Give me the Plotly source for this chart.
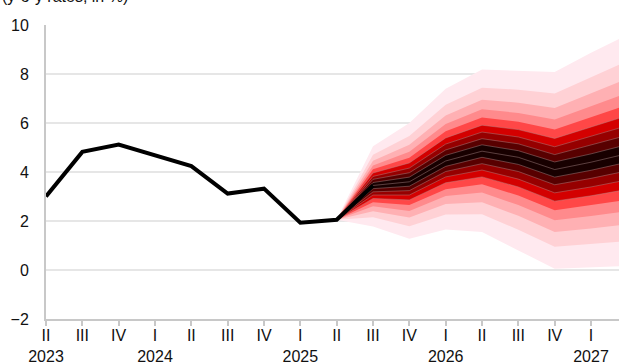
import plotly.graph_objects as go

# quarters on the x axis (last one falls just past the right edge)
quarters = ["2023Q2", "2023Q3", "2023Q4", "2024Q1", "2024Q2", "2024Q3", "2024Q4",
            "2025Q1", "2025Q2", "2025Q3", "2025Q4", "2026Q1", "2026Q2", "2026Q3",
            "2026Q4", "2027Q1", "2027Q2"]
roman = ["II", "III", "IV", "I", "II", "III", "IV", "I", "II", "III", "IV",
         "I", "II", "III", "IV", "I"]
years = ["2023", "", "", "2024", "", "", "", "2025", "", "", "", "2026", "", "", "", "2027"]

# observed y-o-y rates (last point is the nowcast where the fan widens)
hist_q = quarters[:10]
hist = [3.0, 4.82, 5.12, 4.68, 4.24, 3.12, 3.32, 1.93, 2.05, 3.45]

# projection percentiles, 2025Q2 .. 2027Q2
fan_q = quarters[8:]
p05 = [2.05, 1.78, 1.28, 1.65, 1.55, 0.80, 0.05, 0.10, 0.17]
p10 = [2.05, 2.15, 1.79, 2.27, 2.28, 1.64, 0.95, 1.05, 1.18]
p15 = [2.05, 2.40, 2.14, 2.69, 2.77, 2.21, 1.55, 1.69, 1.87]
p20 = [2.05, 2.60, 2.41, 3.02, 3.16, 2.65, 2.03, 2.20, 2.41]
p25 = [2.05, 2.77, 2.65, 3.30, 3.50, 3.04, 2.44, 2.64, 2.87]
p30 = [2.05, 2.92, 2.86, 3.56, 3.80, 3.39, 2.81, 3.03, 3.29]
p35 = [2.05, 3.06, 3.06, 3.80, 4.08, 3.71, 3.15, 3.39, 3.68]
p40 = [2.05, 3.19, 3.24, 4.02, 4.34, 4.02, 3.48, 3.74, 4.05]
p45 = [2.05, 3.32, 3.42, 4.23, 4.60, 4.31, 3.79, 4.07, 4.40]
p50 = [2.05, 3.45, 3.60, 4.45, 4.85, 4.60, 4.10, 4.40, 4.75]
p55 = [2.05, 3.57, 3.79, 4.68, 5.11, 4.87, 4.41, 4.74, 5.12]
p60 = [2.05, 3.70, 3.97, 4.90, 5.36, 5.15, 4.71, 5.09, 5.50]
p65 = [2.05, 3.82, 4.16, 5.14, 5.63, 5.43, 5.03, 5.45, 5.89]
p70 = [2.05, 3.96, 4.37, 5.39, 5.91, 5.73, 5.37, 5.83, 6.30]
p75 = [2.05, 4.11, 4.58, 5.66, 6.22, 6.05, 5.73, 6.23, 6.74]
p80 = [2.05, 4.27, 4.83, 5.96, 6.56, 6.41, 6.14, 6.69, 7.23]
p85 = [2.05, 4.46, 5.11, 6.31, 6.95, 6.83, 6.61, 7.22, 7.81]
p90 = [2.05, 4.70, 5.47, 6.75, 7.44, 7.36, 7.20, 7.88, 8.53]
p95 = [2.05, 5.05, 6.00, 7.40, 8.18, 8.14, 8.08, 8.87, 9.60]

# nested bands, outer to inner
bands = [(p05, p95), (p10, p90), (p15, p85), (p20, p80), (p25, p75),
         (p30, p70), (p35, p65), (p40, p60), (p45, p55)]
band_colors = ["#FFE9EF", "#FFD1D5", "#FFB0B3", "#FF8A8C", "#FF4747",
               "#D40000", "#960000", "#580000", "#180000"]
inner_lines = [p30, p35, p40, p45, p50, p55, p60, p65, p70]

FONT = "Liberation Sans, Arial, sans-serif"

fig = go.Figure()

for (lo, hi), col in zip(bands, band_colors):
    fig.add_trace(go.Scatter(
        x=fan_q + fan_q[::-1], y=hi + lo[::-1],
        fill="toself", fillcolor=col, mode="lines",
        line=dict(width=0), hoverinfo="skip", showlegend=False))

for ln in inner_lines:
    fig.add_trace(go.Scatter(
        x=fan_q, y=ln, mode="lines",
        line=dict(color="rgba(175,140,140,0.75)", width=0.6),
        hoverinfo="skip", showlegend=False))

fig.add_trace(go.Scatter(
    x=hist_q, y=hist, mode="lines",
    line=dict(color="black", width=4), showlegend=False))

ticktext = [r + "<br>" + y for r, y in zip(roman, years)]

fig.update_xaxes(
    type="category", categoryorder="array", categoryarray=quarters,
    range=[0, 15.77], tickvals=quarters[:16], ticktext=ticktext,
    showgrid=False, showline=True, linecolor="#C8C8C8", linewidth=2,
    ticks="outside", ticklen=5, tickcolor="#C8C8C8", tickwidth=1.5,
    ticklabelstandoff=-4, automargin=False,
    tickangle=0, tickfont=dict(family=FONT, size=16, color="#111"))
fig.update_yaxes(
    range=[-2, 10], dtick=2, tick0=0,
    showgrid=True, gridcolor="#E6E6E6", gridwidth=2,
    zeroline=False, showline=True, linecolor="#C8C8C8", linewidth=2,
    ticks="", ticklabelstandoff=12, automargin=False,
    tickfont=dict(family=FONT, size=16, color="#111"))

fig.add_annotation(
    text="(y-o-y rates, in %)", xref="paper", yref="paper",
    x=-0.08, y=1.062, xanchor="left", yanchor="bottom", showarrow=False,
    font=dict(family=FONT, size=16, color="#111"))

fig.update_layout(
    width=619, height=364,
    margin=dict(l=46, r=0, t=25, b=45),
    plot_bgcolor="white", paper_bgcolor="white")

# page margin off so the chart sits at the window's top-left corner
fig.write_html("out.html", config={"displayModeBar": False},
               post_script="document.body.style.margin='0px';")
